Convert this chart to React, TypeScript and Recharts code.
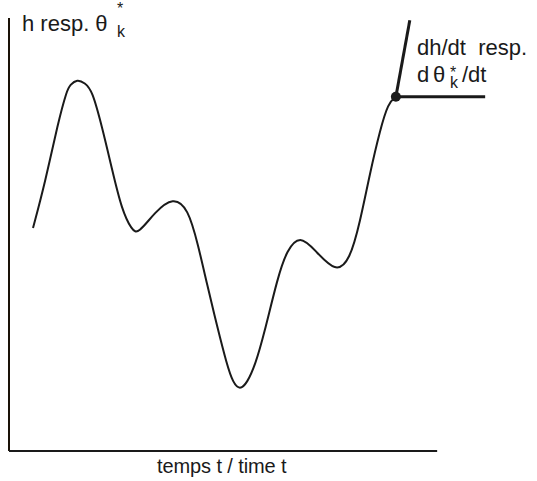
import { ComposedChart, Line, XAxis, YAxis, ReferenceLine, ReferenceDot } from "recharts";

// curve (t and h in 0..100 chart units)
const times = [
  5.0, 7.5, 10.2, 12.1, 12.7, 14.2, 15.8, 17.3, 19.4, 21.5, 23.5, 25.6, 26.9, 30.4, 34.2, 37.3, 39.4, 41.3,
  43.3, 45.4, 46.7, 48.1, 49.6, 51.3, 53.1, 56.0, 57.9, 60.6, 63.75, 68.1, 71.0, 73.1, 75.2, 77.3, 79.0, 80.6,
];
const values = [
  51.5, 61.9, 75.8, 83.4, 84.5, 85.9, 85.0, 83.4, 74.8, 64.9, 55.7, 51.0, 50.1, 55.2, 58.7, 56.1, 47.6, 38.3,
  29.1, 19.9, 15.7, 14.1, 15.7, 19.9, 26.8, 40.2, 46.4, 49.9, 46.4, 41.1, 44.1, 52.7, 64.2, 74.1, 80.4, 81.8,
];

// tangent at the end point and the horizontal marker
const tangentPoint = { t: 80.6, h: 81.8 };
const tangentEnd = { t: 83.5, h: 99.5 };
const markerEnd = { t: 99.2, h: 81.8 };
const timeAxisEnd = 89.2;

const data = times.map((t, i) => ({ t, h: values[i] }));

const font = '"Liberation Sans", Arial, sans-serif';
const ink = "#1a1a1a";

export default function App() {
  return (
    <div style={{ position: "absolute", left: 0, top: 0, width: 537, height: 481 }}>
      <ComposedChart width={537} height={481} data={data} margin={{ top: 18, right: 48, bottom: 30, left: 9 }}>
        <XAxis dataKey="t" type="number" domain={[0, 100]} hide />
        <YAxis type="number" domain={[0, 100]} hide />
        <ReferenceLine segment={[{ x: 0, y: 0 }, { x: 0, y: 100 }]} stroke="#1a1208" strokeWidth={2} />
        <ReferenceLine segment={[{ x: 0, y: 0 }, { x: timeAxisEnd, y: 0 }]} stroke={ink} strokeWidth={2} />
        <Line dataKey="h" type="basis" stroke={ink} strokeWidth={2} dot={false} isAnimationActive={false} />
        <ReferenceLine
          segment={[{ x: tangentPoint.t, y: tangentPoint.h }, { x: tangentEnd.t, y: tangentEnd.h }]}
          stroke={ink}
          strokeWidth={3}
        />
        <ReferenceLine
          segment={[{ x: tangentPoint.t, y: tangentPoint.h }, { x: markerEnd.t, y: markerEnd.h }]}
          stroke={ink}
          strokeWidth={3}
        />
        <ReferenceDot x={tangentPoint.t} y={tangentPoint.h} r={5} fill={ink} stroke="none" />
      </ComposedChart>

      {/* hand placed labels of the sketch */}
      <svg width={537} height={481} style={{ position: "absolute", left: 0, top: 0, pointerEvents: "none" }}>
        <g fontFamily={font} fill={ink}>
          <text x={22} y={31} fontSize={22}>
            h resp. θ
            <tspan x={117} y={14} fontSize={16}>*</tspan>
            <tspan x={117} y={37} fontSize={16}>k</tspan>
          </text>

          <text x={417} y={55} fontSize={22} style={{ whiteSpace: "pre" }}>dh/dt  resp.</text>
          <text x={417} y={82} fontSize={22}>
            d
            <tspan x={433}>θ</tspan>
            <tspan x={450} y={78} fontSize={16}>*</tspan>
            <tspan x={450} y={88} fontSize={16}>k</tspan>
            <tspan x={462} y={82}>/dt</tspan>
          </text>

          <text x={157} y={473} fontSize={20} letterSpacing={-0.1}>temps t / time t</text>
        </g>
      </svg>
    </div>
  );
}
